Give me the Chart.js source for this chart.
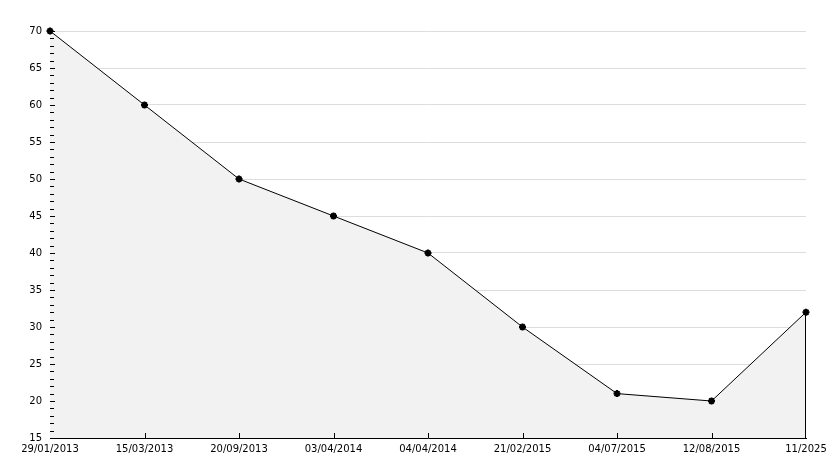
<!DOCTYPE html>
<html>
<head>
<meta charset="utf-8">
<script src="https://cdn.jsdelivr.net/npm/chart.js@4"></script>
<style>
  html, body { margin: 0; padding: 0; background: #fff; }
  #wrap { width: 834px; height: 468px; }
</style>
</head>
<body>
<div id="wrap"><canvas id="myChart"></canvas></div>
<script>
// values
const dateLabels = ['29/01/2013', '15/03/2013', '20/09/2013', '03/04/2014', '04/04/2014',
                    '21/02/2015', '04/07/2015', '12/08/2015', '11/2025'];
const values = [70, 60, 50, 45, 40, 30, 21, 20, 32];
const yMin = 15;
const yMax = 70;

// inward tick marks + right edge of the area
const tickMarks = {
  id: 'tickMarks',
  afterDraw(chart) {
    const ctx = chart.ctx;
    const x = chart.scales.x, y = chart.scales.y;
    const area = chart.chartArea;
    ctx.save();
    ctx.strokeStyle = '#000';
    ctx.lineWidth = 1;
    ctx.beginPath();
    for (let v = yMin; v <= yMax; v++) {
      const py = Math.round(y.getPixelForValue(v)) + 0.5;
      const len = v % 5 === 0 ? 5 : 4;
      ctx.moveTo(area.left, py);
      ctx.lineTo(area.left + len, py);
    }
    for (let i = 1; i < dateLabels.length - 1; i++) {
      const px = Math.round(x.getPixelForValue(i)) + 0.5;
      ctx.moveTo(px, area.bottom);
      ctx.lineTo(px, area.bottom - 5);
    }
    // right border of the filled area
    const last = values.length - 1;
    const rx = Math.round(x.getPixelForValue(last)) - 0.5;
    ctx.moveTo(rx, y.getPixelForValue(values[last]));
    ctx.lineTo(rx, area.bottom);
    ctx.stroke();
    ctx.restore();
  }
};

Chart.defaults.font.family = 'DejaVu Sans';
Chart.defaults.font.size = 10;
Chart.defaults.color = '#000';

new Chart(document.getElementById('myChart'), {
  type: 'line',
  data: {
    labels: dateLabels,
    datasets: [{
      data: values,
      borderColor: '#000',
      borderWidth: 1,
      backgroundColor: '#f2f2f2',
      fill: 'start',
      tension: 0,
      pointStyle: 'star',
      pointRadius: 3.5,
      pointBorderWidth: 2,
      pointBorderColor: '#000',
      pointBackgroundColor: '#000',
      clip: false
    }]
  },
  options: {
    responsive: true,
    maintainAspectRatio: false,
    animation: false,
    layout: { padding: { top: 31, right: 28, left: 0, bottom: 0 } },
    plugins: { legend: { display: false }, tooltip: { enabled: false } },
    scales: {
      x: {
        type: 'category',
        offset: false,
        grid: { display: false, drawTicks: false },
        border: { color: '#000', width: 1 },
        ticks: { maxRotation: 0, autoSkip: false, padding: 5 },
        afterFit(scale) { scale.height = 30; }
      },
      y: {
        min: yMin,
        max: yMax,
        grid: { color: '#dddddd', drawTicks: false },
        border: { color: '#000', width: 1 },
        ticks: { stepSize: 5, padding: 8 },
        afterFit(scale) { scale.width = 50; }
      }
    }
  },
  plugins: [tickMarks]
});
</script>
</body>
</html>
